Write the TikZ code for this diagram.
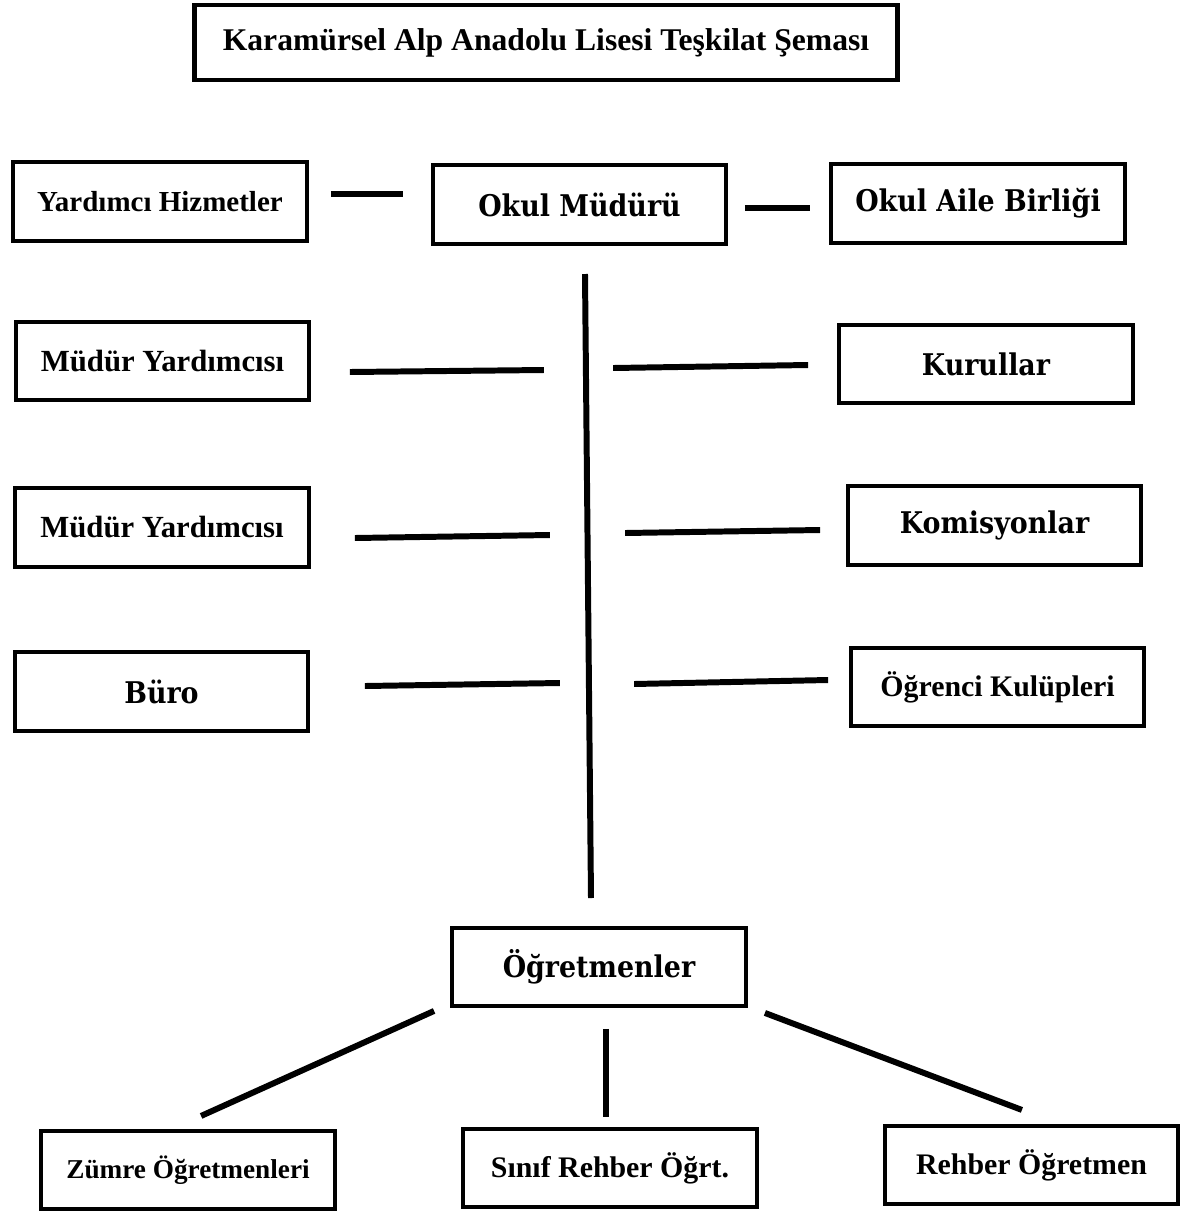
\documentclass[tikz,border=0pt]{standalone}
\usepackage{fontspec}
\setmainfont{Liberation Serif}
\newfontfamily\geofont{DejaVu Serif}[FakeStretch=0.9]

\begin{document}
\begin{tikzpicture}[x=0.02cm,y=-0.02cm,
  box/.style={draw,line width=2.5pt,rectangle,inner sep=0pt,minimum width=5.87cm,minimum height=1.57cm,font=\bfseries\fontsize{16.5}{18}\selectfont},
  geo box/.style={box,font=\geofont\bfseries\fontsize{17}{19}\selectfont},
  link/.style={line width=3.4pt}]
\useasboundingbox (0,0) rectangle (1182,1215);

% title
\node[box,minimum width=14.07cm,minimum height=1.49cm,font=\bfseries\fontsize{18}{20}\selectfont] (title) at (546,42.5) {Karamürsel Alp Anadolu Lisesi Teşkilat Şeması};

% top row
\node[box] (yh) at (160,201.5) {Yardımcı Hizmetler};
\node[geo box] (om) at (579.5,204.5) {Okul Müdürü};
\node[geo box] (oab) at (978,203.5) {Okul Aile Birliği};

% left column
\node[box,font=\bfseries\fontsize{17.5}{19}\selectfont] (my1) at (162.5,361) {Müdür Yardımcısı};
\node[box,font=\bfseries\fontsize{17.5}{19}\selectfont] (my2) at (162,527.5) {Müdür Yardımcısı};
\node[geo box] (buro) at (161.5,691.5) {Büro};

% right column
\node[geo box] (kur) at (986,364) {Kurullar};
\node[geo box] (kom) at (994.5,525.5) {Komisyonlar};
\node[box,font=\bfseries\fontsize{17}{19}\selectfont] (ok) at (997.5,687) {Öğrenci Kulüpleri};

% teachers
\node[geo box] (ogr) at (599,967) {Öğretmenler};
\node[box,font=\bfseries\fontsize{15.5}{17}\selectfont] (zum) at (188,1170) {Zümre Öğretmenleri};
\node[box,font=\bfseries\fontsize{17}{19}\selectfont] (sin) at (610,1168) {Sınıf Rehber Öğrt.};
\node[box,font=\bfseries\fontsize{17}{19}\selectfont] (reh) at (1031.5,1165) {Rehber Öğretmen};

% main line
\coordinate (spinetop) at (585,274);
\coordinate (spinebot) at (591,898);
\draw[link] (spinetop) -- (spinebot);

\draw[link] (yh.east) ++(22,-7.5) -- ++(72,0);
\draw[link] (om.east) ++(16.5,3.5) -- ++(65,0);

\draw[link] (my1.east) ++(38.5,11) -- ++(194,-2);
\draw[link] (my2.east) ++(44,10.5) -- ++(195,-3);
\draw[link] (buro.east) ++(54.5,-5.5) -- ++(195,-3);

\draw[link] (kur.west) ++(-29,1) -- ++(-195,3);
\draw[link] (kom.west) ++(-25.5,4.5) -- ++(-195,3);
\draw[link] (ok.west) ++(-20.5,-7) -- ++(-194,4);

\draw[link] (ogr.south west) ++(-16,2.5) -- ++(-233,105);
\draw[link] (ogr.south) ++(7,20.5) -- ++(0,88);
\draw[link] (ogr.south east) ++(17,4.5) -- ++(257,97);

\end{tikzpicture}
\end{document}
